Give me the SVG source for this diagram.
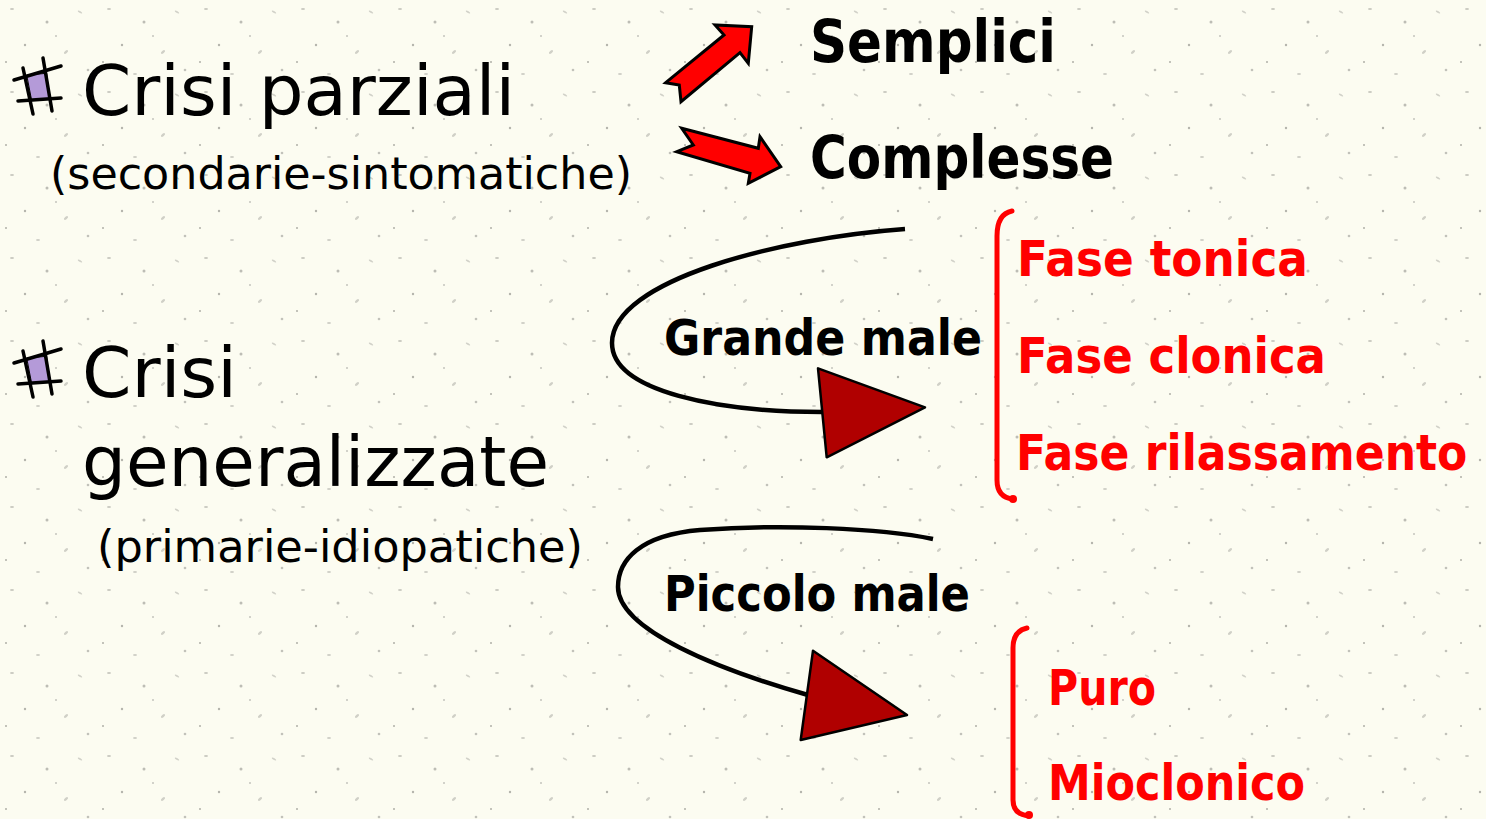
<svg xmlns="http://www.w3.org/2000/svg" width="1486" height="819" viewBox="0 0 1486 819">
<defs>
<pattern id="speck" x="0" y="0" width="97" height="83" patternUnits="userSpaceOnUse">
<rect width="97" height="83" fill="#fcfcf1"/>
<ellipse cx="12" cy="9" rx="2" ry="1" fill="#c9c9c0"/>
<ellipse cx="47" cy="22" rx="1.5" ry="1.5" fill="#bdbdb5"/>
<ellipse cx="80" cy="12" rx="2.5" ry="1" fill="#d2d2c9" transform="rotate(30 80 12)"/>
<ellipse cx="25" cy="45" rx="1.2" ry="1.2" fill="#b5b5ad"/>
<ellipse cx="66" cy="52" rx="2.5" ry="1.2" fill="#d0d0c7" transform="rotate(-40 66 52)"/>
<ellipse cx="88" cy="70" rx="1.3" ry="1.3" fill="#c2c2ba"/>
<ellipse cx="38" cy="74" rx="2" ry="1" fill="#cfcfc6"/>
<ellipse cx="6" cy="62" rx="1" ry="1" fill="#b0b0a8"/>
<ellipse cx="56" cy="36" rx="1" ry="1" fill="#c5c5bd"/>
</pattern>
<style>
.t{font-family:"DejaVu Sans","Liberation Sans",sans-serif;fill:#000}
.b{font-family:"DejaVu Sans","Liberation Sans",sans-serif;font-weight:bold;fill:#000}
.r{font-family:"DejaVu Sans","Liberation Sans",sans-serif;font-weight:bold;fill:#ff0000}
.br{fill:none;stroke:#ff0000;stroke-width:5;stroke-linecap:round;stroke-linejoin:round}
.cur{fill:none;stroke:#000;stroke-width:4.5}
.tri{fill:#b00000;stroke:#000;stroke-width:2.5;stroke-linejoin:round}
.blk{fill:#ff0000;stroke:#000;stroke-width:3;stroke-linejoin:miter}
.ic{fill:#b49ad8;stroke:#000;stroke-width:1}
.il{stroke:#000;stroke-width:3.5;stroke-linecap:round}
</style>
</defs>
<rect width="1486" height="819" fill="url(#speck)"/>

<g id="bullet1">
<polygon class="ic" points="26.7,75 46.7,73.3 49.3,98.3 31.7,100.7"/>
<line class="il" x1="23" y1="68" x2="33" y2="114"/>
<line class="il" x1="43" y1="58" x2="52" y2="111"/>
<line class="il" x1="14" y1="80" x2="61" y2="66"/>
<line class="il" x1="18" y1="101" x2="61" y2="98"/>
</g>
<g id="crisi-parziali">
<text class="t" x="82" y="115" font-size="70" textLength="433" lengthAdjust="spacingAndGlyphs">Crisi parziali</text>
<text class="t" x="50" y="189" font-size="44" textLength="582" lengthAdjust="spacingAndGlyphs">(secondarie-sintomatiche)</text>
</g>

<g id="bullet2" transform="translate(0,283)">
<polygon class="ic" points="26.7,75 46.7,73.3 49.3,98.3 31.7,100.7"/>
<line class="il" x1="23" y1="68" x2="33" y2="114"/>
<line class="il" x1="43" y1="58" x2="52" y2="111"/>
<line class="il" x1="14" y1="80" x2="61" y2="66"/>
<line class="il" x1="18" y1="101" x2="61" y2="98"/>
</g>
<g id="crisi-generalizzate">
<text class="t" x="82" y="397" font-size="70" textLength="155" lengthAdjust="spacingAndGlyphs">Crisi</text>
<text class="t" x="82" y="486" font-size="70" textLength="467" lengthAdjust="spacingAndGlyphs">generalizzate</text>
<text class="t" x="97" y="562" font-size="44" textLength="486" lengthAdjust="spacingAndGlyphs">(primarie-idiopatiche)</text>
</g>

<g id="semplici">
<text class="b" x="810" y="62" font-size="58" textLength="246" lengthAdjust="spacingAndGlyphs">Semplici</text>
</g>
<g id="complesse">
<text class="b" x="810" y="178" font-size="58" textLength="304" lengthAdjust="spacingAndGlyphs">Complesse</text>
</g>

<g id="grande-male">
<text class="b" x="664" y="355" font-size="50" textLength="318" lengthAdjust="spacingAndGlyphs">Grande male</text>
</g>
<g id="piccolo-male">
<text class="b" x="664" y="611" font-size="50" textLength="306" lengthAdjust="spacingAndGlyphs">Piccolo male</text>
</g>

<g id="fasi">
<path class="br" d="M1012,211 C1002,213 997,222 997,236 L997,480 C997,492 1003,498 1013,499"/>
<circle cx="1013" cy="499" r="4" fill="#ff0000"/>
<text class="r" x="1017" y="276" font-size="50" textLength="291" lengthAdjust="spacingAndGlyphs">Fase tonica</text>
<text class="r" x="1017" y="373" font-size="50" textLength="309" lengthAdjust="spacingAndGlyphs">Fase clonica</text>
<text class="r" transform="translate(1016,470) scale(0.9,1)" x="0" y="0" font-size="49">Fase rilassamento</text>
</g>

<g id="piccolo-tipi">
<path class="br" d="M1027,628 C1018,630 1013,637 1013,648 L1013,800 C1013,810 1019,815 1029,816"/>
<circle cx="1029" cy="815" r="4" fill="#ff0000"/>
<text class="r" x="1048" y="705" font-size="50" textLength="108" lengthAdjust="spacingAndGlyphs">Puro</text>
<text class="r" x="1048" y="800" font-size="50" textLength="257" lengthAdjust="spacingAndGlyphs">Mioclonico</text>
</g>

<g id="connectors">
<polygon class="blk" points="665.7,82.7 724,35 715,25 751.7,26.7 748.3,63.3 740,52.7 681,101.7 679.3,85"/>
<polygon class="blk" points="681.7,128.3 758.3,148.3 760,136.7 780.7,166.7 748.3,183.3 750,173.3 676.7,151.7 693.3,145"/>
<path class="cur" d="M905,229 C780,238 612,280 612,343 C612,392 720,412 822,412"/>
<polygon class="tri" points="818,368.3 925,407.3 826.7,457.3"/>
<path class="cur" d="M933,539 C880,528 780,524 700,530 C640,535 618,560 618,587 C618,630 720,670 808,695"/>
<polygon class="tri" points="813,650.7 907,715 800.7,740"/>
</g>
</svg>
